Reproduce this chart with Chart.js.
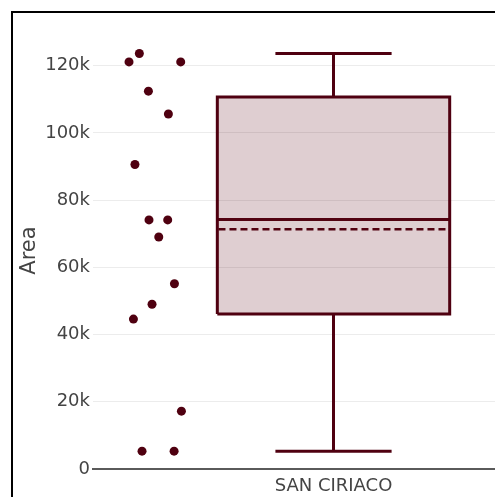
<!DOCTYPE html>
<html>
<head>
<meta charset="utf-8">
<script src="https://cdn.jsdelivr.net/npm/chart.js@4/dist/chart.umd.min.js"></script>
<style>
  html, body { margin: 0; padding: 0; background: #fff; overflow: hidden; width: 495px; height: 497px; }
  #wrap { position: relative; width: 495px; height: 497px; overflow: hidden; }
  #frame { position: absolute; left: 11px; top: 11px; right: -20px; bottom: -20px;
           border-left: 2px solid #000; border-top: 2px solid #000; pointer-events: none; }
  canvas { position: absolute; left: 0; top: 0; }
</style>
</head>
<body>
<div id="wrap">
  <canvas id="c" width="495" height="497"></canvas>
  <div id="frame"></div>
</div>
<script>
// ---- data ----
const categories = ['SAN CIRIACO'];
const areaValues = [121100, 123600, 121100, 112400, 105600, 90600, 74100, 74100, 69000, 55100, 49000, 44600, 17200, 5300, 5300];
const jitterX    = [-1.760, -1.671, -1.315, -1.593, -1.421, -1.709, -1.588, -1.427, -1.504, -1.369, -1.562, -1.722, -1.309, -1.648, -1.372];
const boxMin    = [5300];
const boxQ1     = [46100];
const boxMedian = [74200];
const boxMean   = [71300];
const boxQ3     = [110700];
const boxMax    = [123600];
const yTicks = [0, 20000, 40000, 60000, 80000, 100000, 120000];

const lineColor = '#4f0010';
const fillColor = 'rgba(95,10,25,0.2)';
const catPos = 0;      // category centre on the linear x scale
const halfBox = 1;     // box half width (x units)
const halfCap = 0.5;   // whisker cap half width

const i = 0;
const lineDs = (data, extra) => Object.assign({
  type: 'scatter', data, showLine: true, pointRadius: 0, pointHoverRadius: 0,
  borderColor: lineColor, borderWidth: 3, tension: 0, fill: false,
  borderCapStyle: 'butt', borderJoinStyle: 'miter'
}, extra || {});

const datasets = [
  lineDs([
    {x: catPos - halfBox, y: boxQ1[i]}, {x: catPos + halfBox, y: boxQ1[i]},
    {x: catPos + halfBox, y: boxQ3[i]}, {x: catPos - halfBox, y: boxQ3[i]},
    {x: catPos - halfBox, y: boxQ1[i]}
  ], {fill: 'shape', backgroundColor: fillColor}),
  lineDs([{x: catPos - halfBox, y: boxMedian[i]}, {x: catPos + halfBox, y: boxMedian[i]}]),
  lineDs([{x: catPos - halfBox + 0.01, y: boxMean[i]}, {x: catPos + halfBox - 0.03, y: boxMean[i]}],
         {borderDash: [7, 4], borderWidth: 2.5}),
  lineDs([{x: catPos, y: boxQ3[i]}, {x: catPos, y: boxMax[i]}]),
  lineDs([{x: catPos - halfCap, y: boxMax[i]}, {x: catPos + halfCap, y: boxMax[i]}]),
  lineDs([{x: catPos, y: boxQ1[i]}, {x: catPos, y: boxMin[i]}]),
  lineDs([{x: catPos - halfCap, y: boxMin[i]}, {x: catPos + halfCap, y: boxMin[i]}]),
  {
    type: 'scatter',
    data: areaValues.map((v, k) => ({x: jitterX[k], y: v})),
    pointRadius: 4.5, pointHoverRadius: 4.5,
    backgroundColor: lineColor, borderColor: lineColor, borderWidth: 0
  }
];

new Chart(document.getElementById('c'), {
  type: 'scatter',
  data: { datasets },
  options: {
    responsive: false,
    animation: false,
    layout: { autoPadding: false, padding: { top: 32, right: 0, bottom: 0, left: 0 } },
    plugins: { legend: { display: false }, tooltip: { enabled: false } },
    scales: {
      x: {
        type: 'linear', min: -2.07, max: 1.39,
        afterBuildTicks: s => { s.ticks = [{value: catPos}]; },
        afterFit: s => { s.height = 28; s.paddingLeft = 0; s.paddingRight = 0; },
        ticks: {
          callback: () => categories[0],
          color: '#444', padding: 7,
          font: { family: 'DejaVu Sans', size: 18 }
        },
        grid: { display: false, drawTicks: false },
        border: { display: true, color: '#5a5a5a', width: 2 }
      },
      y: {
        type: 'linear', min: 0, max: 130000,
        afterBuildTicks: s => { s.ticks = yTicks.map(v => ({value: v})); },
        afterFit: s => { s.width = 93; s.paddingTop = 0; s.paddingBottom = 0; },
        ticks: {
          callback: v => v === 0 ? '0' : (v / 1000) + 'k',
          color: '#444', padding: 3,
          font: { family: 'DejaVu Sans', size: 18 }
        },
        grid: { color: '#ececec', lineWidth: 1, drawTicks: false },
        border: { display: false },
        title: {
          display: true, text: 'Area', color: '#444',
          font: { family: 'DejaVu Sans', size: 21 },
          padding: { top: 17, bottom: 0 }
        }
      }
    }
  }
});
</script>
</body>
</html>
